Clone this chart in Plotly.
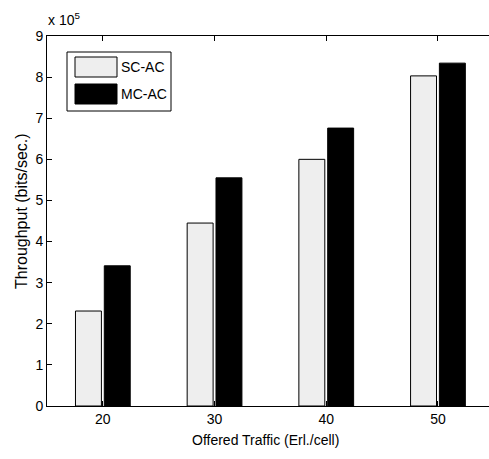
import plotly.graph_objects as go

# Offered traffic per cell (Erlang) and throughput in units of 1e5 bits/sec
offered_traffic = [20, 30, 40, 50]
sc_ac = [2.31, 4.45, 6.00, 8.03]
mc_ac = [3.41, 5.55, 6.76, 8.34]
series_names = ["SC-AC", "MC-AC"]
y_ticks = list(range(0, 10))
x_ticks = [20, 30, 40, 50]

W, H = 489, 459
L, R, T, B = 47, 0, 36, 53
PW, PH = W - L - R, H - T - B
X_MAX = 15 + PW / 11.17

FONT = "Liberation Sans, Arial, sans-serif"


def px_x(p):
    return (p - L) / PW


def px_y(p):
    return (H - B - p) / PH


fig = go.Figure()
fig.add_trace(go.Bar(
    x=offered_traffic, y=sc_ac, name=series_names[0],
    marker=dict(color="#eeeeee", line=dict(color="black", width=1)),
    showlegend=False,
))
fig.add_trace(go.Bar(
    x=offered_traffic, y=mc_ac, name=series_names[1],
    marker=dict(color="black", line=dict(color="black", width=1)),
    showlegend=False,
))

axis_common = dict(
    showline=True, linecolor="black", linewidth=1,
    ticks="inside", ticklen=5, tickcolor="black",
    showgrid=False, zeroline=False,
)

fig.update_layout(
    width=W, height=H,
    margin=dict(l=L, r=R, t=T, b=B, pad=0),
    paper_bgcolor="white", plot_bgcolor="white",
    barmode="group", bargap=0.484, bargroupgap=0.1,
    xaxis=dict(
        **axis_common, mirror="ticks", range=[15, X_MAX], tickvals=x_ticks,
        tickfont=dict(family=FONT, size=14, color="black"),
    ),
    yaxis=dict(
        **axis_common, mirror=False, range=[0, 9], tickvals=y_ticks,
        tickfont=dict(family=FONT, size=14, color="black"),
        ticklabelstandoff=0,
    ),
    showlegend=False,
)

annotations = [
    dict(text="Offered Traffic (Erl./cell)", xref="paper", yref="paper",
         x=px_x(265), y=px_y(440), xanchor="center", yanchor="middle",
         showarrow=False, font=dict(family=FONT, size=14, color="black")),
    dict(text="Throughput (bits/sec.)", xref="paper", yref="paper",
         x=px_x(21), y=px_y(211), xanchor="center", yanchor="middle",
         textangle=-90, showarrow=False,
         font=dict(family=FONT, size=16, color="black")),
    dict(text="x 10<sup>5</sup>", xref="paper", yref="paper",
         x=px_x(46), y=px_y(30), xanchor="left", yanchor="bottom",
         showarrow=False, font=dict(family=FONT, size=14, color="black")),
]

# legend box with patches
shapes = [
    dict(type="rect", xref="paper", yref="paper",
         x0=px_x(67), x1=px_x(171), y0=px_y(111), y1=px_y(52),
         line=dict(color="black", width=1), fillcolor="white", layer="above"),
    dict(type="rect", xref="paper", yref="paper",
         x0=px_x(75), x1=px_x(117), y0=px_y(77), y1=px_y(57),
         line=dict(color="black", width=1), fillcolor="#eeeeee", layer="above"),
    dict(type="rect", xref="paper", yref="paper",
         x0=px_x(75), x1=px_x(117), y0=px_y(104), y1=px_y(84),
         line=dict(color="black", width=1), fillcolor="black", layer="above"),
]
for name, yc in zip(series_names, [67, 94]):
    annotations.append(dict(
        text=name, xref="paper", yref="paper", x=px_x(119), y=px_y(yc),
        xanchor="left", yanchor="middle", showarrow=False,
        font=dict(family=FONT, size=14, color="black")))

fig.update_layout(annotations=annotations, shapes=shapes)

fig.write_html("out.html")
